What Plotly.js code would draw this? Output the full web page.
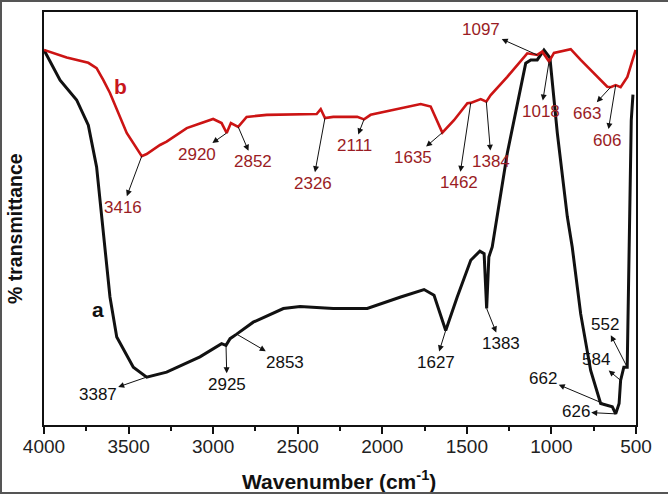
<!DOCTYPE html>
<html>
<head>
<meta charset="utf-8">
<script src="https://cdn.plot.ly/plotly-3.0.1.min.js"></script>
<style>
  html, body { margin: 0; padding: 0; background: #fff; }
  #wrap { position: relative; width: 668px; height: 494px; }
  #chart { width: 668px; height: 494px; }
  #frame { position: absolute; left: 0; top: 0; width: 668px; height: 494px; box-sizing: border-box;
           border-left: 2px solid #555; border-top: 2px solid #555; border-bottom: 2px solid #555; pointer-events: none; }
</style>
</head>
<body>
<div id="wrap"><div id="chart"></div><div id="frame"></div></div>
<script>
// Curve a (black)
const waveA = [4000, 3905, 3807, 3738, 3689, 3649, 3610, 3570, 3472, 3393, 3275, 3078, 2950, 2924, 2900, 2861,
  2763, 2585, 2486, 2290, 2089, 1891, 1753, 1694, 1625, 1557, 1477, 1423, 1398, 1383, 1370, 1350, 1261, 1152,
  1122, 1084, 1044, 1009, 965, 906, 877, 827, 768, 709, 670, 640, 620, 600, 591, 572, 552, 545, 540, 528, 518];
const transA = [90.8, 83.5, 78.7, 72.6, 62.5, 46.5, 31.0, 21.3, 14.0, 11.6, 12.8, 16.5, 19.7, 19.3, 20.9, 22.0,
  24.9, 28.2, 28.7, 28.2, 28.2, 31.0, 32.8, 31.4, 22.9, 31.0, 39.9, 42.1, 41.5, 28.2, 40.7, 43.1, 65.8, 87.6,
  88.4, 88.4, 90.8, 88.9, 70.6, 50.4, 43.1, 26.9, 13.2, 5.2, 4.8, 4.4, 2.7, 5.2, 10.8, 14.0, 14.0, 30.3, 43.1, 73.8, 80.0];

// Curve b (red)
const waveB = [4000, 3866, 3738, 3689, 3649, 3610, 3511, 3422, 3393, 3314, 3275, 3156, 3078, 3000, 2950, 2920, 2895,
  2852, 2802, 2683, 2388, 2364, 2339, 2290, 2148, 2108, 2069, 1773, 1714, 1645, 1576, 1497, 1477, 1418, 1385,
  1359, 1261, 1143, 1084, 1054, 1014, 985, 886, 827, 670, 650, 620, 591, 551, 502];
const transB = [90.8, 89.0, 87.7, 86.4, 83.5, 80.4, 70.7, 65.1, 65.6, 67.8, 68.6, 71.9, 73.0, 74.1, 73.1, 70.7, 73.1,
  72.2, 74.6, 75.1, 75.3, 76.5, 74.3, 74.6, 74.6, 74.0, 75.1, 77.7, 77.1, 70.8, 73.8, 77.9, 78.0, 78.9, 78.3,
  79.9, 84.3, 90.0, 89.6, 90.4, 88.0, 90.1, 91.0, 88.4, 81.9, 81.8, 82.3, 81.8, 84.3, 90.8];

// Peak labels: label text, anchor wavenumber on the curve
const peakTextB = ['3416', '2920', '2852', '2326', '2111', '1635', '1462', '1384', '1097', '1018', '663', '606'];
const peakWaveB = [3422, 2920, 2852, 2339, 2108, 1645, 1477, 1385, 1084, 1014, 650, 620];
const peakTextA = ['3387', '2925', '2853', '1627', '1383', '662', '626', '584', '552'];
const peakWaveA = [3393, 2924, 2861, 1625, 1383, 670, 620, 591, 552];

const xTickVals = [4000, 3500, 3000, 2500, 2000, 1500, 1000, 500];
const xTitle = '<b>Wavenumber (cm<sup>-1</sup>)</b>';
const yTitle = '<b>% transmittance</b>';

// label offsets (pixels) — layout only
const offB = [[-19, 51], [-30, 21], [15, 35], [-12, 65], [-10, 26], [-29, 25], [-12, 80], [5, 60], [-56, -25], [-8, 50], [-24, 26], [-9, 55]];
const offA = [[-49, 17], [1, 39], [48, 28], [-10, 32], [14, 35], [-64, -27], [-40, -2], [-25, -21], [-22, -43]];

const FONT = 'Liberation Sans, Arial, sans-serif';

function lookup(waves, vals, w) {
  let best = 0;
  for (let i = 1; i < waves.length; i++) if (Math.abs(waves[i] - w) < Math.abs(waves[best] - w)) best = i;
  return vals[best];
}

const annotations = [];
function addPeaks(texts, waves, xs, ys, offs, color) {
  texts.forEach((t, i) => {
    annotations.push({
      x: waves[i], y: lookup(xs, ys, waves[i]), xref: 'x', yref: 'y',
      text: t, showarrow: true, arrowside: 'start', startarrowhead: 2, startarrowsize: 1.2,
      arrowwidth: 1, arrowcolor: '#111', ax: offs[i][0], ay: offs[i][1], standoff: 0, startstandoff: 0,
      font: { family: FONT, size: 17, color: color }
    });
  });
}
addPeaks(peakTextB, peakWaveB, waveB, transB, offB, '#9a1c24');
addPeaks(peakTextA, peakWaveA, waveA, transA, offA, '#111');

annotations.push({ x: 3550, y: 82, xref: 'x', yref: 'y', text: '<b>b</b>', showarrow: false,
  font: { family: FONT, size: 21, color: '#c8161c' } });
annotations.push({ x: 3680, y: 28, xref: 'x', yref: 'y', text: '<b>a</b>', showarrow: false,
  font: { family: FONT, size: 21, color: '#111' } });
// axis titles
annotations.push({ x: 0.499, y: -0.133, xref: 'paper', yref: 'paper', xanchor: 'center', yanchor: 'middle',
  text: xTitle, showarrow: false, font: { family: FONT, size: 21, color: '#111' } });
annotations.push({ x: -0.049, y: 0.477, xref: 'paper', yref: 'paper', xanchor: 'center', yanchor: 'middle',
  textangle: -90, text: yTitle, showarrow: false, font: { family: FONT, size: 19.5, color: '#111' } });

const traces = [
  { x: waveA, y: transA, type: 'scatter', mode: 'lines', line: { color: '#111', width: 3 }, hoverinfo: 'skip' },
  { x: waveB, y: transB, type: 'scatter', mode: 'lines', line: { color: '#cc1414', width: 2.6 }, hoverinfo: 'skip' }
];

const layout = {
  width: 668, height: 494,
  margin: { l: 44, r: 32, t: 12, b: 69 },
  paper_bgcolor: '#fff', plot_bgcolor: '#fff',
  showlegend: false,
  xaxis: {
    range: [4000, 500], tickvals: xTickVals, ticktext: xTickVals.map(String),
    ticks: 'outside', ticklen: 7, tickwidth: 2, tickcolor: '#111',
    minor: { dtick: 250, ticks: 'outside', ticklen: 4, tickwidth: 2, tickcolor: '#111' },
    showline: true, linecolor: '#111', linewidth: 2, mirror: true,
    showgrid: false, zeroline: false, ticklabelstandoff: -4,
    tickfont: { family: FONT, size: 19, color: '#222' }
  },
  yaxis: {
    range: [0, 100], showticklabels: false, ticks: '',
    showline: true, linecolor: '#111', linewidth: 2, mirror: true,
    showgrid: false, zeroline: false
  },
  annotations: annotations
};

Plotly.newPlot('chart', traces, layout, { staticPlot: true, displayModeBar: false });
</script>
</body>
</html>
